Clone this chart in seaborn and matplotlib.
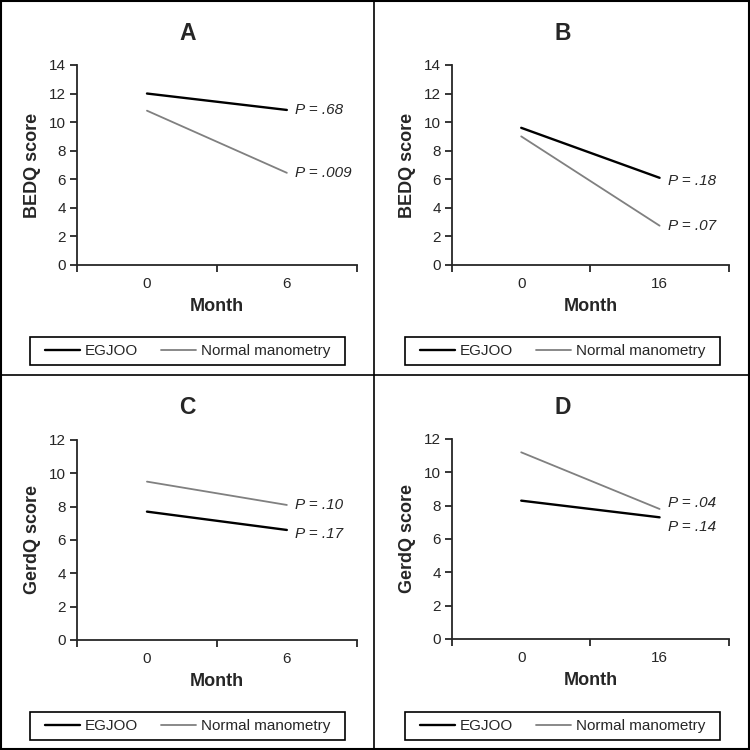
import numpy as np
import pandas as pd
import matplotlib.pyplot as plt
import seaborn as sns
from matplotlib.patches import Rectangle
from matplotlib.lines import Line2D

# dados (escores medios no inicio e no fim)
groups = ['EGJOO', 'Normal manometry']
months_short = ['0', '6']
months_long = ['0', '16']

bedq_short_egjoo = [12.0, 10.85]
bedq_short_normal = [10.8, 6.45]
bedq_long_egjoo = [9.6, 6.1]
bedq_long_normal = [9.0, 2.75]
gerdq_short_egjoo = [7.7, 6.6]
gerdq_short_normal = [9.5, 8.1]
gerdq_long_egjoo = [8.3, 7.3]
gerdq_long_normal = [11.2, 7.8]

p_a = ['.68', '.009']
p_b = ['.18', '.07']
p_c = ['.17', '.10']
p_d = ['.14', '.04']

sns.set_style('ticks')
plt.rcParams['font.family'] = ['Liberation Sans', 'DejaVu Sans']

colors = {'EGJOO': '#000000', 'Normal manometry': '#808080'}
widths = {'EGJOO': 1.7, 'Normal manometry': 1.3}

# letra, meses, series, p, rotulo y, ymax, retangulo dos eixos, deslocamento dos p (pt)
panels = [
    ('A', months_short, bedq_short_egjoo, bedq_short_normal, p_a, 'BEDQ score', 14,
     [0.1027, 0.6467, 0.373, 0.2667], [0, 0]),
    ('B', months_long, bedq_long_egjoo, bedq_long_normal, p_b, 'BEDQ score', 14,
     [0.6027, 0.6467, 0.369, 0.2667], [-2, 0]),
    ('C', months_short, gerdq_short_egjoo, gerdq_short_normal, p_c, 'GerdQ score', 12,
     [0.1027, 0.1467, 0.373, 0.2667], [-3, 0]),
    ('D', months_long, gerdq_long_egjoo, gerdq_long_normal, p_d, 'GerdQ score', 12,
     [0.6027, 0.1480, 0.369, 0.2667], [-7, 4]),
]

fig = plt.figure(figsize=(7.5, 7.5), dpi=100)

for letter, months, egjoo, normal, pvals, ylab, ymax, rect, offs in panels:
    ax = fig.add_axes(rect)
    df = pd.DataFrame({
        'Month': months * 2,
        'score': egjoo + normal,
        'grupo': [groups[0]] * 2 + [groups[1]] * 2,
    })
    for g in groups:
        sub = df[df['grupo'] == g]
        sns.lineplot(data=sub, x='Month', y='score', color=colors[g],
                     linewidth=widths[g], label=g, ax=ax, sort=False)
    handles, labels = ax.get_legend_handles_labels()
    ax.get_legend().remove()

    ax.set_xlim(-0.5, 1.5)
    ax.set_ylim(0, ymax)
    ax.set_yticks(np.arange(0, ymax + 1, 2))
    ax.set_xticks([0, 1])
    ax.set_xticklabels(months)
    ax.set_xticks([-0.5, 0.5, 1.5], minor=True)
    ax.tick_params(axis='x', which='major', length=0, pad=9, labelsize=11)
    ax.tick_params(axis='x', which='minor', length=5, width=1.3, direction='out')
    ax.tick_params(axis='y', length=5, width=1.3, pad=3, labelsize=11)
    sns.despine(ax=ax)
    for s in ['left', 'bottom']:
        ax.spines[s].set_linewidth(1.3)
    ax.set_xlabel('Month', fontsize=13, fontweight='bold', labelpad=5)
    ax.set_ylabel(ylab, fontsize=13, fontweight='bold', labelpad=6)

    # valores de P ao lado do fim de cada linha
    for vals, p, dy in zip([egjoo, normal], pvals, offs):
        ax.annotate(f'P = {p}', xy=(1, vals[1]), xytext=(6, dy),
                    textcoords='offset points', ha='left', va='center',
                    fontsize=11, style='italic')

    px0 = 0.0 if rect[0] < 0.5 else 0.5
    py0 = 0.5 if rect[1] > 0.5 else 0.0
    fig.text(px0 + 0.25, py0 + 0.456, letter, ha='center', va='center',
             fontsize=16.5, fontweight='bold')

    leg_cx = px0 + 0.25
    leg_cy = py0 + 0.032
    fig.legend(handles, labels, loc='center', bbox_to_anchor=(leg_cx, leg_cy),
               ncol=2, frameon=False, fontsize=11, handlelength=2.3,
               handletextpad=0.3, columnspacing=1.5)
    fig.add_artist(Rectangle((leg_cx - 0.21, leg_cy - 0.019), 0.42, 0.038,
                             transform=fig.transFigure, fill=False,
                             edgecolor='black', linewidth=1.2))

# bordas dos paineis
fig.add_artist(Rectangle((0.001, 0.001), 0.998, 0.998, transform=fig.transFigure,
                         fill=False, edgecolor='black', linewidth=1.5))
fig.add_artist(Line2D([0.4993, 0.4993], [0, 1], transform=fig.transFigure,
                      color='black', linewidth=1.2))
fig.add_artist(Line2D([0, 1], [0.5, 0.5], transform=fig.transFigure,
                      color='black', linewidth=1.2))

plt.savefig('out.png', dpi=100)
